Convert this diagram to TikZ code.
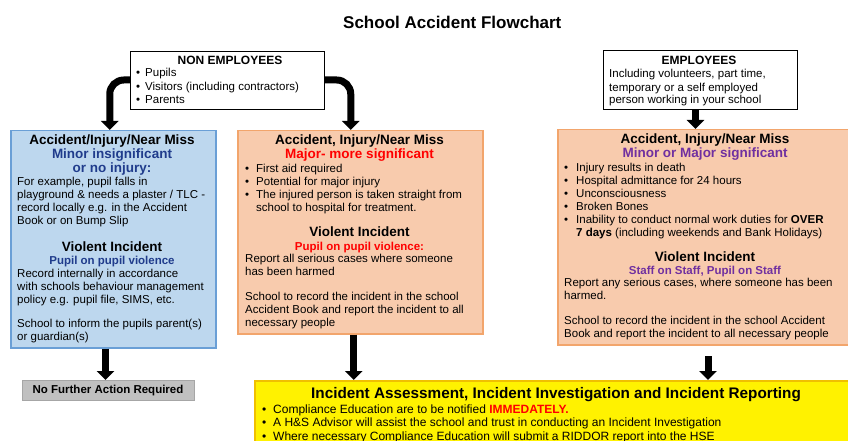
\documentclass[tikz,border=0pt]{standalone}
\usepackage{fontspec}
\setmainfont{Liberation Sans}
\usetikzlibrary{arrows.meta}

\definecolor{bluefill}{HTML}{BDD7EE}
\definecolor{blueline}{HTML}{6A9FD6}
\definecolor{peach}{HTML}{F8CBAD}
\definecolor{peachline}{HTML}{F2A56C}
\definecolor{navy}{HTML}{203C8C}
\definecolor{purp}{HTML}{7030A0}
\definecolor{yellowline}{HTML}{F0C000}
\definecolor{nfafill}{HTML}{C0C0C0}
\definecolor{nfaline}{HTML}{A6A6A6}

\newcommand\bodyfont{\fontsize{11.5}{13}\selectfont}
\newcommand\headfont{\fontsize{13.5}{14}\selectfont\bfseries}
\newcommand\subfont{\fontsize{11.5}{13}\selectfont\bfseries}
\newcommand\bul[1][11pt]{\makebox[#1][l]{\textbullet}}

% multi-line texts sit on the baseline of their last line
\tikzset{
  box/.style={rectangle, draw, line width=1pt, anchor=north west, inner sep=0pt},
  txt/.style={inner sep=0pt, anchor=base west, align=left, font=\bodyfont},
  head/.style={inner sep=0pt, anchor=base, align=center, font=\headfont},
  sub/.style={inner sep=0pt, anchor=base, font=\subfont},
  bigarrow/.style={line width=7pt, -{Triangle[width=17pt,length=9pt]}},
}

\begin{document}
\begin{tikzpicture}[x=1pt, y=-1pt]
    \useasboundingbox (0,0) rectangle (848,441);
    \node[inner sep=0pt, anchor=base west, font=\fontsize{17}{20}\selectfont\bfseries] (title) at (343,28.5) {School Accident Flowchart};

    % Who was hurt
    \node[box, minimum width=194pt, minimum height=58pt] (nonemp) at (130,51) {};
    \node[head, font=\fontsize{12}{13}\selectfont\bfseries] (nonhead) at (230,65) {NON EMPLOYEES};
    \node[txt] (nonlist) at (136,103) {\bul[9pt]Pupils\\ \bul[9pt]Visitors (including contractors)\\ \bul[9pt]Parents};

    \node[box, minimum width=194pt, minimum height=59pt] (emp) at (603,50) {};
    \node[head, font=\fontsize{12}{13}\selectfont\bfseries] (emphead) at (699,65) {EMPLOYEES};
    \node[txt] (emptext) at (609,104) {Including volunteers, part time,\\ temporary or a self employed\\ person working in your school};

    % Minor
    \node[box, draw=blueline, fill=bluefill, line width=1.5pt, minimum width=205pt, minimum height=217pt] (minor) at (10,130) {};
    \node[head] (minorhead) at (112,172) {Accident/Injury/Near Miss\\ \textcolor{navy}{Minor insignificant}\\ \textcolor{navy}{or no injury:}};
    \node[txt] (minortext) at (17,224) {For example, pupil falls in\\ playground \& needs a plaster / TLC -\\ record locally e.g. in the Accident\\ Book or on Bump Slip};
    \node[head] (minorviol) at (112,251) {Violent Incident};
    \node[sub, text=navy] (minorsub) at (112,264) {Pupil on pupil violence};
    \node[txt] (minorrec) at (17,303) {Record internally in accordance\\ with schools behaviour management\\ policy e.g. pupil file, SIMS, etc.};
    \node[txt] (minorpar) at (17,340) {School to inform the pupils parent(s)\\ or guardian(s)};

    \node[box, draw=nfaline, fill=nfafill, minimum width=172pt, minimum height=20pt] (nfa) at (22,380) {};
    \node[sub] (nfatext) at (108,393) {No Further Action Required};

    % Major
    \node[box, draw=peachline, fill=peach, line width=1.5pt, minimum width=245pt, minimum height=203pt] (major) at (237,130) {};
    \node[head] (majorhead) at (359.5,158.5) {Accident, Injury/Near Miss\\ \textcolor{red}{Major- more significant}};
    \node[txt] (majorlist) at (245,211) {\bul First aid required\\ \bul Potential for major injury\\ \bul The injured person is taken straight from\\ \hspace*{11pt}school to hospital for treatment.};
    \node[head] (majorviol) at (359.5,236.5) {Violent Incident};
    \node[sub, text=red] (majorsub) at (359.5,250) {Pupil on pupil violence:};
    \node[txt] (majorrep) at (245,275) {Report all serious cases where someone\\ has been harmed};
    \node[txt] (majorrec) at (245,326) {School to record the incident in the school\\ Accident Book and report the incident to all\\ necessary people};

    % Staff
    \node[box, draw=peachline, fill=peach, line width=1.5pt, minimum width=297pt, minimum height=215pt] (staff) at (557,129) {};
    \node[head] (staffhead) at (705,157.5) {Accident, Injury/Near Miss\\ \textcolor{purp}{Minor or Major significant}};
    \node[txt] (stafflist) at (564,236) {\bul[12pt]Injury results in death\\ \bul[12pt]Hospital admittance for 24 hours\\ \bul[12pt]Unconsciousness\\ \bul[12pt]Broken Bones\\ \bul[12pt]Inability to conduct normal work duties for \textbf{OVER}\\ \hspace*{12pt}\textbf{7 days} (including weekends and Bank Holidays)};
    \node[head] (staffviol) at (705,261) {Violent Incident};
    \node[sub, text=purp] (staffsub) at (705,274) {Staff on Staff, Pupil on Staff};
    \node[txt] (staffrep) at (564,299) {Report any serious cases, where someone has been\\ harmed.};
    \node[txt] (staffrec) at (564,337) {School to record the incident in the school Accident\\ Book and report the incident to all necessary people};

    % Reporting
    \node[box, draw=yellowline, fill=yellow, line width=1.5pt, minimum width=600pt, minimum height=80pt] (report) at (254,380) {};
    \node[head, font=\fontsize{15.3}{16}\selectfont\bfseries] (reporthead) at (556,398.5) {Incident Assessment, Incident Investigation and Incident Reporting};
    \node[txt, font=\fontsize{12}{13.5}\selectfont] (reportlist) at (262,440) {\bul Compliance Education are to be notified \textcolor{red}{\textbf{IMMEDATELY.}}\\ \bul A H\&S Advisor will assist the school and trust in conducting an Incident Investigation\\ \bul Where necessary Compliance Education will submit a RIDDOR report into the HSE};

    % Arrows
    \draw[bigarrow, rounded corners=14pt] ([yshift=-29pt]nonemp.north west) -| ([xshift=-3.5pt]minor.north);
    \draw[bigarrow, rounded corners=14pt] ([yshift=-29pt]nonemp.north east) -| ([xshift=-9.5pt]major.north);
    \draw[bigarrow] ([xshift=-5pt]emp.south) -- ([xshift=-5pt]emp.south |- staff.north);
    \draw[bigarrow] ([xshift=-3pt]nfa.north |- minor.south) -- ([xshift=-3pt]nfa.north);
    \draw[bigarrow] ([xshift=-6.5pt]major.south) -- ([xshift=-6.5pt]major.south |- report.north);
    \coordinate (staffout) at (708,356);
    \draw[bigarrow] (staffout) -- (staffout |- report.north);
\end{tikzpicture}
\end{document}
